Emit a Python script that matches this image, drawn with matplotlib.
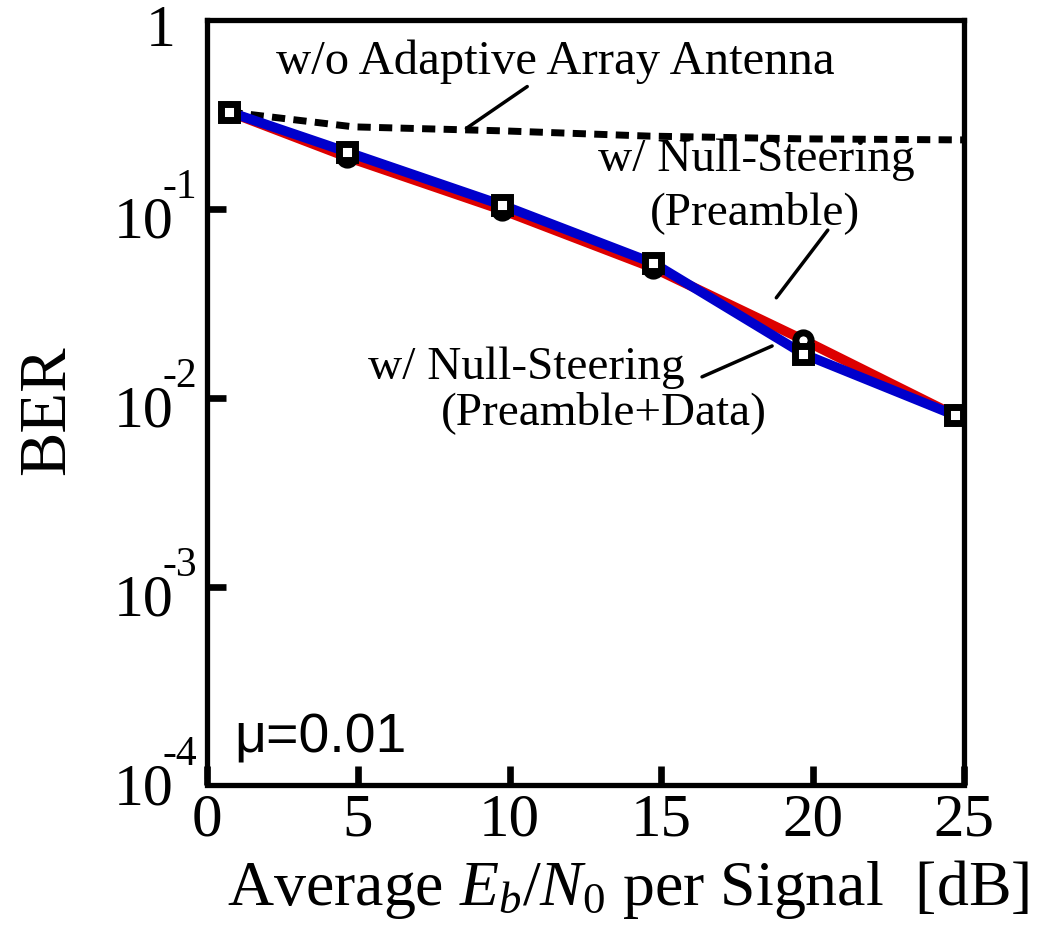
import matplotlib
matplotlib.use('Agg')
import matplotlib.pyplot as plt
import matplotlib.transforms as mtransforms
import numpy as np

# values
snr_db = [0.75, 4.65, 9.75, 14.75, 19.7, 24.7]
ber_preamble = [0.326, 0.188, 0.0988, 0.0487, 0.0203, 0.0081]
ber_preamble_data = [0.326, 0.200, 0.105, 0.0517, 0.0171, 0.0081]

snr_wo = [0.75, 4.85, 9.8, 14.6, 19.7, 25.0]
ber_wo = [0.326, 0.272, 0.259, 0.243, 0.235, 0.232]

x_ticks = [0, 5, 10, 15, 20, 25]
y_decades = [1e-4, 1e-3, 1e-2, 1e-1]
y_exponents = ['-4', '-3', '-2', '-1']

plt.rcParams['font.family'] = ['Liberation Serif', 'DejaVu Serif']
plt.rcParams['mathtext.fontset'] = 'custom'
plt.rcParams['mathtext.rm'] = 'Liberation Serif'
plt.rcParams['mathtext.it'] = 'Liberation Serif:italic'

fig = plt.figure(figsize=(10.5, 9.34), dpi=100)
ax = fig.add_axes([0.1967, 0.1692, 0.7214, 0.8094])

ax.plot(snr_wo, ber_wo, color='black', lw=5, linestyle=(0, (1.9, 1.2)), zorder=2)
ax.plot(snr_db, ber_preamble, color='#dd0000', lw=7, zorder=3)
ax.plot(snr_db, ber_preamble_data, color='#0000cc', lw=7, zorder=4)
ax.plot(snr_db, ber_preamble, linestyle='none', marker='o', ms=11, mew=5,
        mec='black', mfc='white', zorder=5)
ax.plot(snr_db, ber_preamble_data, linestyle='none', marker='s', ms=11, mew=5,
        mec='black', mfc='white', zorder=6)

ax.set_yscale('log')
ax.set_xlim(0, 25)
ax.set_ylim(1e-4, 1)
ax.minorticks_off()
ax.set_xticks(x_ticks)
ax.set_xticklabels([str(t) for t in x_ticks])
ax.set_yticks(y_decades[1:])
ax.set_yticklabels([])
ax.tick_params(axis='both', direction='in', length=14, width=4.8, labelsize=44)
ax.tick_params(axis='x', pad=6)

# x tick labels sit a little to the right of their ticks in the reference
shift = mtransforms.ScaledTranslation(12 / 100, 0, fig.dpi_scale_trans)
for lab in ax.get_xticklabels():
    lab.set_transform(lab.get_transform() + shift)

# y tick labels drawn as "10" plus a raised exponent, like the original
ytrans = ax.get_yaxis_transform()
for val, exp in zip(y_decades, y_exponents):
    t_base = mtransforms.offset_copy(ytrans, fig=fig, x=-33, y=-15, units='dots')
    t_sup = mtransforms.offset_copy(ytrans, fig=fig, x=-44, y=21, units='dots')
    ax.text(0, val, '10', transform=t_base, fontsize=43, ha='right', va='center')
    ax.text(0, val, exp, transform=t_sup, fontsize=30, ha='left', va='center')
t_one = mtransforms.offset_copy(ytrans, fig=fig, x=-31, y=-12, units='dots')
ax.text(0, 1, '1', transform=t_one, fontsize=43, ha='right', va='center')

for side in ['left', 'right', 'top', 'bottom']:
    ax.spines[side].set_linewidth(3.8)
ax.spines['bottom'].set_position(('outward', 6.5))

ax.set_xlabel(r'Average $E_b/N_{\mathit{0}}$ per Signal  [dB]', fontsize=46)
ax.xaxis.set_label_coords(0.556, -0.108)
ax.set_ylabel('BER', fontsize=48)
ax.yaxis.set_label_coords(-0.17, 0.484)

# annotations
ax.annotate('', xy=(8.5, 0.262), xytext=(10.66, 0.453),
            arrowprops=dict(arrowstyle='-', lw=2.5, color='black'))
ax.text(11.5, 0.6, 'w/o Adaptive Array Antenna', fontsize=35, ha='center', va='center')

ax.annotate('', xy=(18.75, 0.033), xytext=(20.56, 0.0794),
            arrowprops=dict(arrowstyle='-', lw=2.5, color='black'))
ax.text(18.15, 0.1816, 'w/ Null-Steering', fontsize=34, ha='center', va='center')
ax.text(18.09, 0.0953, '(Preamble)', fontsize=34, ha='center', va='center')

ax.annotate('', xy=(18.75, 0.0191), xytext=(16.27, 0.01276),
            arrowprops=dict(arrowstyle='-', lw=2.5, color='black'))
ax.text(10.56, 0.0144, 'w/ Null-Steering', fontsize=34, ha='center', va='center')
ax.text(13.1, 0.00833, '(Preamble+Data)', fontsize=34, ha='center', va='center')

ax.text(0.93, 1.58e-4, '\u03bc=0.01', fontsize=40, ha='left', va='center',
        family=['Liberation Sans', 'DejaVu Sans'])

fig.savefig('out.png', dpi=100)
